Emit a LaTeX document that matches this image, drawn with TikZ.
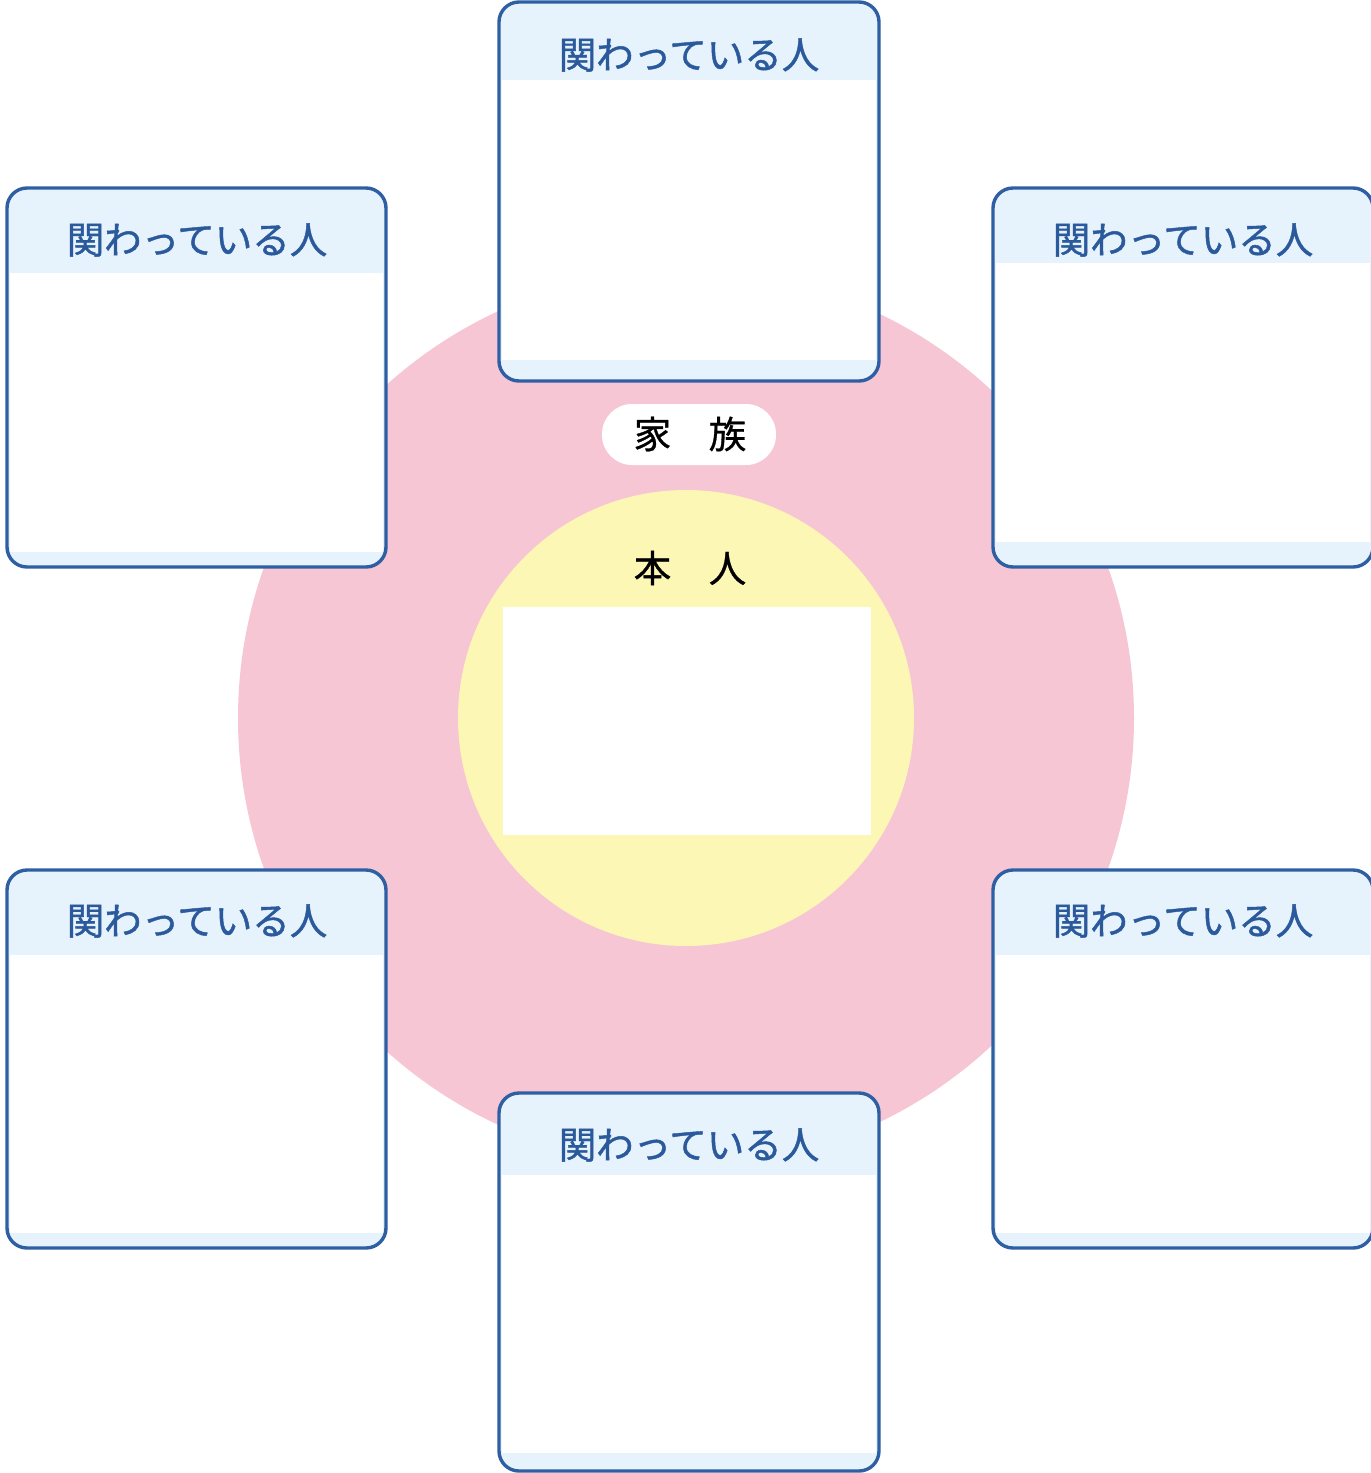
\documentclass[tikz,border=0pt]{standalone}
\usepackage{fontspec}
\newfontfamily\jp{Noto Sans CJK JP}
\newfontfamily\jpbold{Noto Sans CJK JP}[FakeBold=1.2]
\newfontfamily\jpmid{Noto Sans CJK JP}[FakeBold=0.8]
\definecolor{pinkring}{HTML}{F7C6D4}
\definecolor{yellowcore}{HTML}{FCF7B4}
\definecolor{headblue}{HTML}{E6F2FC}
\definecolor{edgeblue}{HTML}{2F5FA3}
\definecolor{textblue}{HTML}{2B5A9C}
\tikzset{
  boxline/.style={draw=edgeblue, line width=1.7pt, rounded corners=10pt},
  headtext/.style={font=\jpbold\fontsize{18.75pt}{20pt}\selectfont, text=textblue, inner sep=0pt},
  blacktext/.style={font=\jpmid\fontsize{18.75pt}{20pt}\selectfont, text=black, inner sep=0pt},
}
\newcommand\kanbox[6]{%
  \fill[headblue, rounded corners=10pt] (#1,#2) rectangle (#3,#4);
  \fill[white] (#1+3,#5) rectangle (#3-3,#6);
  \draw[boxline] (#1,#2) rectangle (#3,#4);
}
\begin{document}
\begin{tikzpicture}[x=0.5pt,y=-0.5pt]
\path[use as bounding box] (0,0) rectangle (1371,1473);
\clip (0,0) rectangle (1371,1473);
\fill[white] (0,0) rectangle (1371,1473);
% circles
\fill[pinkring] (686,718) circle[radius=448];
\fill[yellowcore] (686,718) circle[radius=228];
\fill[white] (503,607) rectangle (871,835);
% family pill
\fill[white, rounded corners=15pt] (602,404) rectangle (776,465);
\node[blacktext] (family) at (690,434) {家　族};
\node[blacktext] (self) at (690,568) {本　人};
% boxes
\kanbox{499}{2}{879}{381}{80}{360}
\node[headtext] (top) at (689,55) {関わっている人};
\kanbox{7}{188}{386}{567}{273}{552}
\node[headtext] (topleft) at (197,240) {関わっている人};
\kanbox{993}{188}{1373}{567}{263}{542}
\node[headtext] (topright) at (1183,240) {関わっている人};
\kanbox{7}{870}{386}{1248}{955}{1233}
\node[headtext] (bottomleft) at (197,921) {関わっている人};
\kanbox{993}{870}{1373}{1248}{955}{1233}
\node[headtext] (bottomright) at (1183,921) {関わっている人};
\kanbox{499}{1093}{879}{1471}{1175}{1453}
\node[headtext] (bottom) at (689,1145) {関わっている人};
\end{tikzpicture}
\end{document}
